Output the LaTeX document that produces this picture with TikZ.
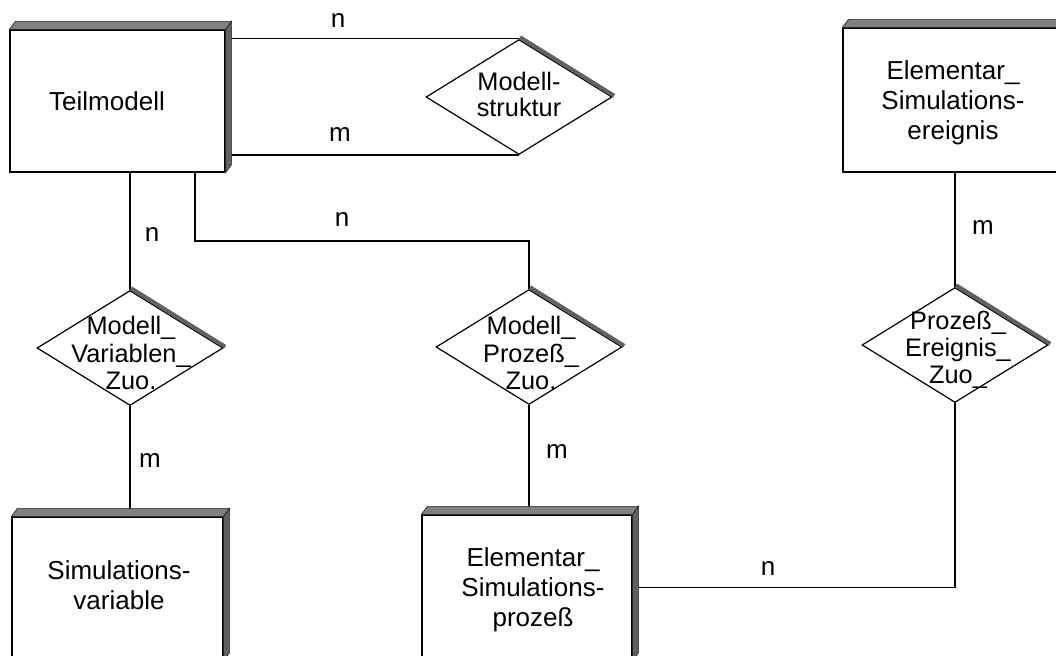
\documentclass[tikz,border=0pt]{standalone}
\usepackage{fontspec}
\setmainfont{Liberation Sans}
\usetikzlibrary{shapes.geometric,calc}

% raised entity box: grey top and right faces behind the white front face
\newcommand\entitybands[1]{%
  \path[bandtop] (#1.north west) -- ++(6,-8) -- ([shift={(6,-8)}]#1.north east) -- (#1.north east) -- cycle;
  \path[bandright] (#1.north east) -- ++(6,-8) -- ([shift={(6,-8)}]#1.south east) -- (#1.south east) -- cycle;
}
% shaded upper right rim of a relationship diamond
\newcommand\relrim[1]{%
  \draw[rimshade] ([shift={(1,-1.7)}]#1.north) -- ([shift={(1.6,-1.2)}]#1.east);
}

\begin{document}
\begin{tikzpicture}[x=0.75pt,y=-0.75pt,
  conn/.style={draw=black,line width=0.9pt},
  entity/.style={draw=black,fill=white,line width=0.9pt,rectangle,inner sep=0pt},
  relation/.style={draw=black,fill=white,line width=0.9pt,diamond,inner sep=0pt,
                   minimum width=139.5pt,minimum height=86.25pt},
  etext/.style={align=center,inner sep=0pt,font=\fontsize{19.5}{22.5}\selectfont},
  rtext/.style={align=center,inner sep=0pt,font=\fontsize{19}{20.5}\selectfont},
  card/.style={inner sep=0pt,font=\fontsize{19.5}{20}\selectfont},
  bandtop/.style={fill=black!50,draw=black!85,line width=0.5pt},
  bandright/.style={fill=black!62,draw=black!85,line width=0.5pt},
  rimshade/.style={draw=black!62,line width=3pt,line cap=butt},
]
\useasboundingbox (0,0) rectangle (1056,656);
\clip (0,0) rectangle (1056,656);

% entities (front faces)
\node[entity,minimum width=161.25pt,minimum height=106.5pt]  (T) at (117.5,101)   {};
\node[entity,minimum width=168pt,minimum height=108pt]       (E) at (955,100)     {};
\node[entity,minimum width=158.25pt,minimum height=107.25pt] (V) at (117.5,588.5) {};
\node[entity,minimum width=157.5pt,minimum height=108.75pt]  (P) at (527,587.5)   {};

% relationships
\node[relation] (MS)  at (519,97)  {};
\node[relation] (MVZ) at (130,348) {};
\node[relation] (MPZ) at (529,347) {};
\node[relation] (PEZ) at (955,345) {};

% connectors
\coordinate (tk) at (195,241);
\draw[conn] (T.east |- MS.north) -- (MS.north);
\draw[conn] (T.east |- MS.south) -- (MS.south);
\draw[conn] (MVZ.north |- T.south) -- (MVZ.north);
\draw[conn] (T.south -| tk) -- (tk) -| (MPZ.north);
\draw[conn] (MVZ.south) -- (MVZ.south |- V.north);
\draw[conn] (MPZ.south) -- (MPZ.south |- P.north);
\draw[conn] (E.south) -- (PEZ.north);
\draw[conn] (PEZ.south) |- (P.east);

% raised faces and rims
\entitybands{T}
\entitybands{E}
\entitybands{V}
\entitybands{P}
\relrim{MS}
\relrim{MVZ}
\relrim{MPZ}
\relrim{PEZ}

% texts
\node[etext] (Tt) at (107,101)   {Teilmodell};
\node[etext] (Et) at (953,103)   {Elementar\_\\Simulations-\\ereignis};
\node[etext] (Vt) at (119,585)   {Simulations-\\variable};
\node[etext] (Pt) at (533,590)   {Elementar\_\\Simulations-\\prozeß};
\node[rtext,font=\fontsize{19}{19.5}\selectfont] (MSt) at (519,94) {Modell-\\struktur};
\node[rtext] (MVZt) at (131,353) {Modell\_\\Variablen\_\\Zuo.};
\node[rtext] (MPZt) at (531,353) {Modell\_\\Prozeß\_\\Zuo.};
\node[rtext] (PEZt) at (958,350) {Prozeß\_\\Ereignis\_\\Zuo\_};

% cardinalities
\node[card] (c1) at (338,21)  {n};
\node[card] (c2) at (340,135) {m};
\node[card] (c3) at (152,235) {n};
\node[card] (c4) at (342,220) {n};
\node[card] (c5) at (150,461) {m};
\node[card] (c6) at (557,452) {m};
\node[card] (c7) at (768,568) {n};
\node[card] (c8) at (983,228) {m};
\end{tikzpicture}
\end{document}
